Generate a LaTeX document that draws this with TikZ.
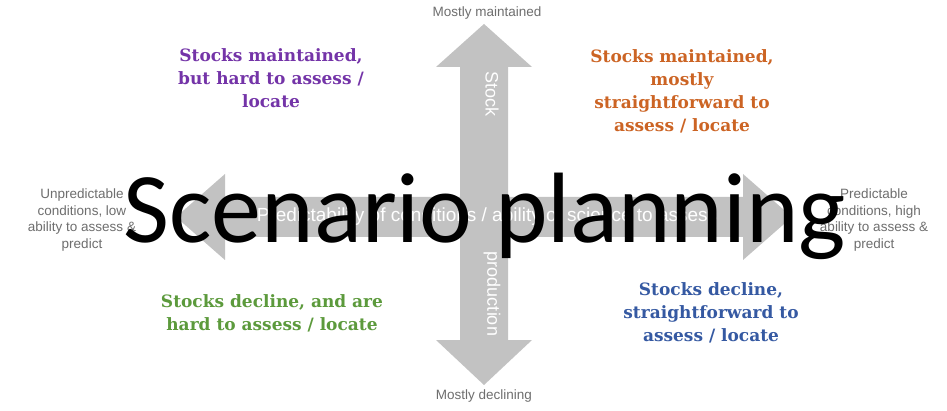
\documentclass[tikz,border=0pt]{standalone}
\usepackage{fontspec}
\setmainfont{Liberation Sans}
\newfontfamily\slabfont{DejaVu Serif}
\newfontfamily\titlefont{Carlito}
\definecolor{arrowgray}{HTML}{C2C2C2}
\definecolor{endgray}{HTML}{6E6E6E}
\definecolor{keeppurple}{HTML}{7434A8}
\definecolor{keeporange}{HTML}{CC6424}
\definecolor{lossgreen}{HTML}{5C9A3C}
\definecolor{lossblue}{HTML}{3559A2}
\tikzset{
	quad/.style={font=\slabfont\bfseries\fontsize{17}{23}\selectfont, align=center},
	ends/.style={text=endgray, font=\fontsize{13.5}{16.5}\selectfont, align=center},
	onarrow/.style={text=white, font=\fontsize{18}{20}\selectfont, inner sep=0pt}
}
\begin{document}
\begin{tikzpicture}[x=1pt,y=-1pt]
	\useasboundingbox (0,0) rectangle (947,411);
	\fill[white] (0,0) rectangle (947,411);
	% stock axis
	\fill[arrowgray] (484,24)--(532,67)--(508,67)--(508,340)--(532,340)--(484,385)--(436,340)--(460,340)--(460,67)--(436,67)--cycle;
	% predictability axis
	\fill[arrowgray] (176,217)--(225,174)--(225,197)--(743,197)--(743,174)--(792,217)--(743,260)--(743,237)--(225,237)--(225,260)--cycle;
	\node[onarrow, font=\fontsize{19}{21}\selectfont] (axis) at (487,217) {Predictability of conditions / ability of science to assess};
	\node[onarrow, rotate=-90] (stock) at (492,94) {Stock};
	\node[onarrow, rotate=-90] (production) at (492,294) {production};
	% axis ends
	\node[ends] (maintained) at (487,13) {Mostly maintained};
	\node[ends] (declining) at (484,396) {Mostly declining};
	\node[ends] (unpredictable) at (82,220) {Unpredictable\\conditions, low\\ability to assess \&\\predict};
	\node[ends] (predictable) at (874,220) {Predictable\\conditions, high\\ability to assess \&\\predict};
	% quadrants
	\node[quad, text=keeppurple] (hardkeep) at (271,78) {Stocks maintained,\\but hard to assess /\\locate};
	\node[quad, text=keeporange] (easykeep) at (682,91) {Stocks maintained,\\mostly\\straightforward to\\assess / locate};
	\node[quad, text=lossgreen] (hardloss) at (272,313) {Stocks decline, and are\\hard to assess / locate};
	\node[quad, text=lossblue] (easyloss) at (711,313) {Stocks decline,\\straightforward to\\assess / locate};
	\node[anchor=base, font=\titlefont\fontsize{100}{110}\selectfont, inner sep=0pt] (title) at (485,243) {Scenario planning};
\end{tikzpicture}
\end{document}
